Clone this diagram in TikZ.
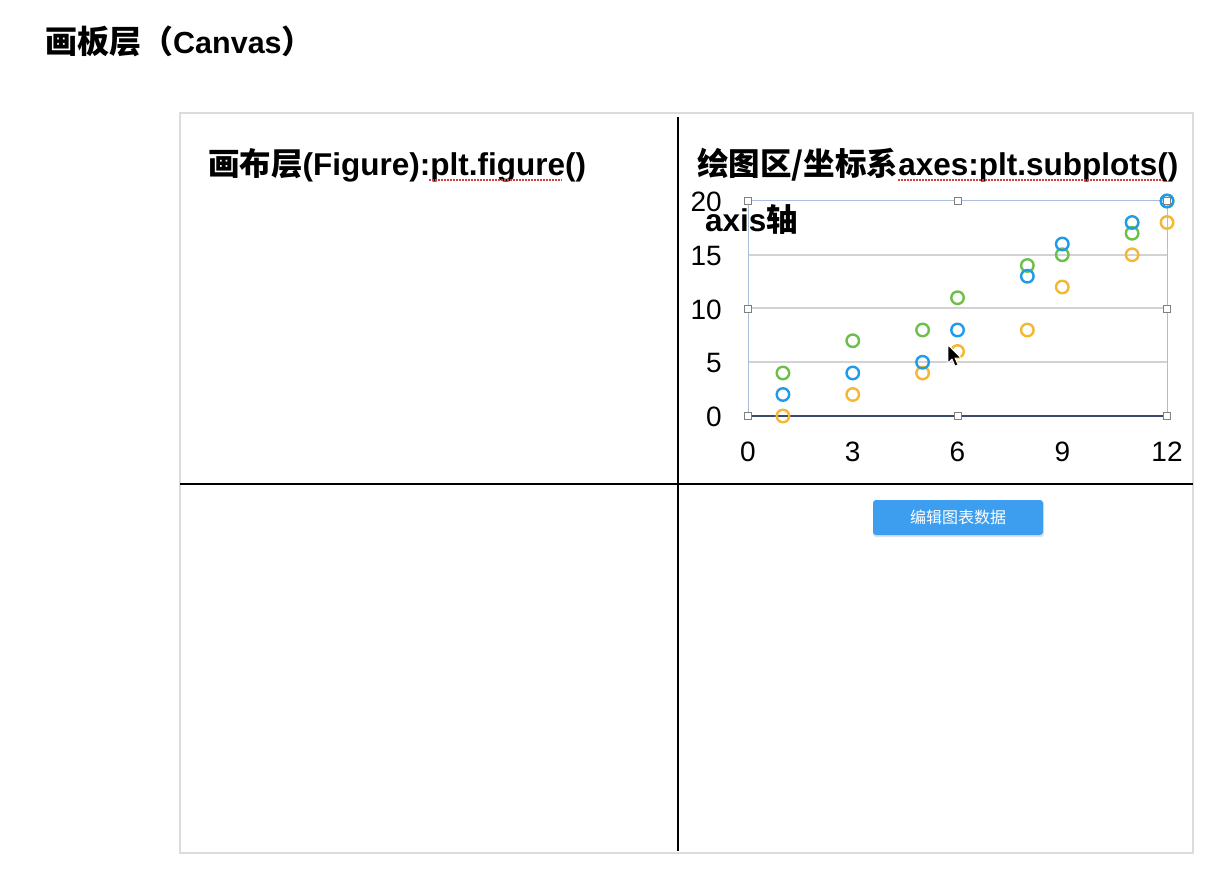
\documentclass[tikz,border=0pt]{standalone}
\usepackage{fontspec}
\setmainfont{Liberation Sans}
\newfontfamily\zh{Noto Sans CJK SC}
\definecolor{grn}{HTML}{6CC04A}
\definecolor{blu}{HTML}{1E9BE9}
\definecolor{org}{HTML}{F5B731}
\definecolor{framegray}{HTML}{DCDCDC}
\definecolor{gridgray}{HTML}{D2D2D2}
\definecolor{selblue}{HTML}{A9BFDC}
\definecolor{axisnavy}{HTML}{3A4A6A}
\definecolor{btnblue}{HTML}{3D9EF0}
\definecolor{wavered}{HTML}{D04040}
\tikzset{
  big/.style={font=\fontsize{31.5}{34}\selectfont\bfseries, inner sep=0pt, anchor=base west},
  ticklab/.style={font=\fontsize{28}{32}\selectfont, inner sep=0pt},
  divider/.style={line width=2.5pt, black},
  grid line/.style={line width=2pt, gridgray},
  handle/.style={draw=gray, fill=white, line width=0.8pt, minimum size=7pt, inner sep=0pt, rectangle},
  dotg/.style={circle, draw=grn, line width=2.4pt, minimum size=12.5pt, inner sep=0pt},
  dotb/.style={circle, draw=blu, line width=2.4pt, minimum size=12.5pt, inner sep=0pt},
  doto/.style={circle, draw=org, line width=2.4pt, minimum size=12.5pt, inner sep=0pt},
  squiggle/.style={wavered, line width=1.2pt, dash pattern=on 1.5pt off 1.5pt},
}
\begin{document}
\begin{tikzpicture}[x=1pt, y=-1pt]
\fill[white] (0,0) rectangle (1216,877);
\useasboundingbox (0,0) rectangle (1216,877);

% title
\node[big, font=\fontsize{30.5}{34}\selectfont\bfseries] (title) at (45,54) {{\zh\bfseries\fontsize{32}{34}\selectfont 画板层（}Canvas{\zh\bfseries\fontsize{32}{34}\selectfont ）}};

% outer frame
\draw[framegray, line width=1.2pt] (180,113) rectangle (1193,853);
\draw[divider] (678,117) -- (678,851);
\draw[divider] (180,484) -- (1193,484);

% quadrant titles
\node[big] (figtxt) at (208,176) {{\zh\bfseries 画布层}(Figure):plt.figure()};
\node[big] (axtxt) at (697,176) {{\zh\bfseries 绘图区/坐标系}axes:plt.subplots()};
\draw[squiggle] (429,180) -- (562,180);
\draw[squiggle] (898,180) -- (1163,180);

% chart: x0=748 (0), x per unit 34.92; y0=416 (0), y per unit 10.75 (upwards)
\begin{scope}[shift={(748,416)}, x=34.92pt, y=10.75pt]
  \draw[grid line] (0,5) -- (12,5);
  \draw[grid line] (0,10) -- (12,10);
  \draw[grid line] (0,15) -- (12,15);
  \draw[selblue, line width=1pt] (0,0) rectangle (12,20);
  \draw[axisnavy, line width=1.6pt] (0,0) -- (12,0);
  % tick labels
  \foreach \v in {0,5,10,15,20} {\node[ticklab, anchor=east] (y\v) at ([xshift=-26pt, yshift=-1pt]0,\v) {\v};}
  \foreach \v in {0,3,6,9,12} {\node[ticklab] (x\v) at ([yshift=-36pt]\v,0) {\v};}
  % data
  \foreach \a/\b [count=\i] in {1/4,3/7,5/8,6/11,8/14,9/15,11/17,12/20} {\node[dotg] (g\i) at (\a,\b) {};}
  \foreach \a/\b [count=\i] in {1/0,3/2,5/4,6/6,8/8,9/12,11/15,12/18} {\node[doto] (o\i) at (\a,\b) {};}
  \foreach \a/\b [count=\i] in {1/2,3/4,5/5,6/8,8/13,9/16,11/18,12/20} {\node[dotb] (b\i) at (\a,\b) {};}
  % selection handles
  \foreach \a/\b [count=\i] in {0/0,6/0,12/0,0/10,12/10,0/20,6/20,12/20} {\node[handle] (h\i) at (\a,\b) {};}
\end{scope}

\node[big] (axistxt) at (705,232) {axis{\zh\bfseries 轴}};

% mouse cursor
\filldraw[fill=black, draw=white, line width=0.8pt, line join=round]
  (948,345) -- (948,363) -- (952,359) -- (955,366) -- (958,365) -- (955,358) -- (961,358) -- cycle;

% button
\fill[black!12, rounded corners=3pt] (873,501) rectangle (1044,537);
\node[rectangle, rounded corners=3pt, fill=btnblue, minimum width=170pt, minimum height=35pt, inner sep=0pt,
      text=white, font=\zh\fontsize{16}{18}\selectfont] (btn) at (958,517.5) {编辑图表数据};
\end{tikzpicture}
\end{document}
